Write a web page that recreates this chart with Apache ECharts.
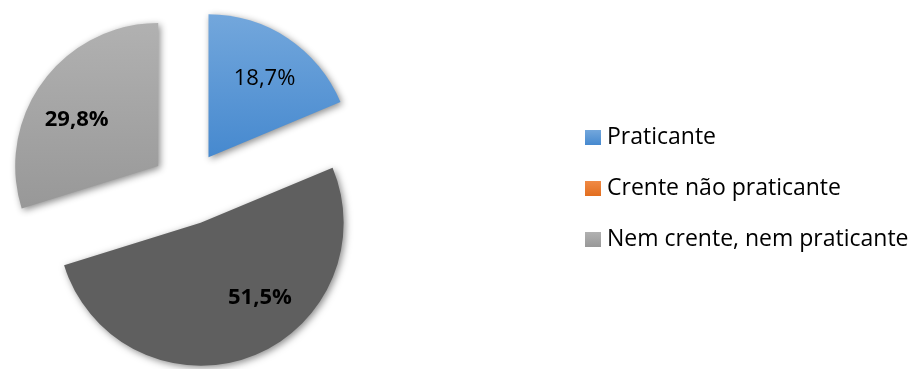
<!DOCTYPE html>
<html><head><meta charset="utf-8">
<script src="https://cdn.jsdelivr.net/npm/echarts@6/dist/echarts.min.js"></script>
<style>html,body{margin:0;padding:0;background:#fff}#c{width:915px;height:369px}</style>
</head><body><div id="c"></div>
<script>
var categories = ['Praticante', 'Crente não praticante', 'Nem crente, nem praticante'];
var values = [18.7, 51.5, 29.8];
var labels = ['18,7%', '51,5%', '29,8%'];
var boldLabel = [false, true, true];

var sliceColors = [
  {type:'linear',x:0,y:0,x2:0,y2:1,colorStops:[{offset:0,color:'#73A7DC'},{offset:1,color:'#4689CF'}]},
  '#5F5F5F',
  {type:'linear',x:0,y:0,x2:0,y2:1,colorStops:[{offset:0,color:'#B1B1B1'},{offset:1,color:'#989898'}]}
];
var legendColors = [
  {type:'linear',x:0,y:0,x2:0,y2:1,colorStops:[{offset:0,color:'#73A7DC'},{offset:1,color:'#4689CF'}]},
  {type:'linear',x:0,y:0,x2:0,y2:1,colorStops:[{offset:0,color:'#F08A45'},{offset:1,color:'#E26E1F'}]},
  {type:'linear',x:0,y:0,x2:0,y2:1,colorStops:[{offset:0,color:'#B1B1B1'},{offset:1,color:'#989898'}]}
];
// label nudges (layout only)
var labelShift = [[2,3],[26,-17],[-3,11]];
var FONT = 'Open Sans';
var center = [188, 188];
var R = 143;
var offset = 37;

var chart = echarts.init(document.getElementById('c'), null, {renderer:'canvas'});
var mainData = categories.map(function(n,i){
  return {name:n, value:values[i], selected:true,
    itemStyle:{color:sliceColors[i]},
    select:{itemStyle:{color:sliceColors[i]}}};
});
var labelData = categories.map(function(n,i){
  return {name:n, value:values[i], selected:true,
    label:{formatter:labels[i], fontWeight: boldLabel[i] ? 'bold' : 'normal'},
    itemStyle:{color:'rgba(0,0,0,0)'},
    select:{itemStyle:{color:'rgba(0,0,0,0)'}}};
});
chart.setOption({
  animation:false,
  legend:{
    orient:'vertical', left:585, top:126, padding:0, itemWidth:16, itemHeight:15, itemGap:28,
    icon:'rect', selectedMode:false,
    textStyle:{fontFamily:FONT, fontSize:23, color:'#000', padding:[0,0,0,1]},
    data: categories.map(function(n,i){return {name:n, itemStyle:{color:legendColors[i]}};})
  },
  series:[{
    type:'pie', center:center, radius:[0,R], startAngle:90, clockwise:true,
    selectedMode:'multiple', selectedOffset:offset, silent:true,
    label:{show:false}, labelLine:{show:false},
    itemStyle:{shadowBlur:7, shadowColor:'rgba(0,0,0,0.45)', shadowOffsetX:2, shadowOffsetY:2},
    emphasis:{disabled:true},
    data: mainData
  },{
    type:'pie', center:center, radius:[46,R], startAngle:90, clockwise:true,
    selectedMode:'multiple', selectedOffset:offset, silent:true,
    label:{show:true, position:'inside', fontFamily:FONT, fontSize:22, color:'#000'},
    labelLine:{show:false}, emphasis:{disabled:true},
    legendHoverLink:false,
    labelLayout:function(p){ var s = labelShift[p.dataIndex]; return {dx:s[0], dy:s[1]}; },
    data: labelData
  }]
});
</script></body></html>
